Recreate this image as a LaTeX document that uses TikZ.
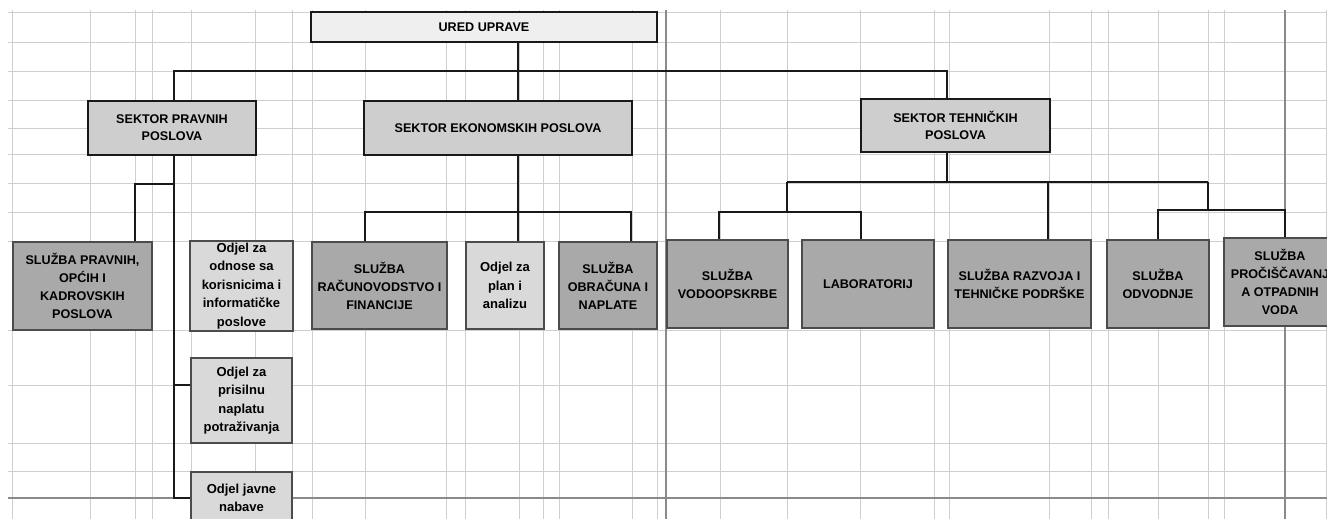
\documentclass[tikz,border=0pt]{standalone}
\usepackage{fontspec}
\setmainfont{Liberation Sans}
\usepackage{tikz}
\usetikzlibrary{positioning,calc}
\definecolor{sluzbac}{HTML}{A9A9A9}
\definecolor{sektorc}{HTML}{CECECE}
\definecolor{odjelc}{HTML}{D9D9D9}
\definecolor{uredc}{HTML}{EFEFEF}
\definecolor{gridc}{HTML}{CFCFCF}
\definecolor{breakc}{HTML}{8A8A8A}
\tikzset{
  unit/.style={align=center, inner sep=2pt,
    font=\bfseries\fontsize{12.6}{18}\selectfont},
  sektor/.style={unit, draw=black!90, line width=2.4pt, fill=sektorc,
    font=\bfseries\fontsize{12.6}{17}\selectfont},
  sluzba/.style={unit, draw=black!70, line width=1.4pt, fill=sluzbac},
  odjel/.style={unit, draw=black!70, line width=1.4pt, fill=odjelc,
    font=\bfseries\fontsize{13}{18.4}\selectfont},
  link/.style={line width=1.8pt, black!90},
  cell/.style={gridc, line width=0.7pt},
  pagebreak/.style={breakc, line width=1.1pt}}

\begin{document}
\begin{tikzpicture}[x=1pt, y=-1pt]
  \useasboundingbox (0,0) rectangle (1327,519);
  \clip (0,0) rectangle (1327,519);
  % ---- the sheet's cell grid behind the chart
  \foreach \gx in {12,90,135,152,191,255,292,312,365,446,465,519,543,559,
      632,657,720,787,860,934,949,1049,1091,1108,1158,1208,1224,1326}
    \draw[cell] (\gx,10) -- (\gx,519);
  \foreach \gy in {12,42,71,100,128,154,183,212,241,330,385,443,471}
    \draw[cell] (8,\gy) -- (1327,\gy);
  \draw[pagebreak] (666,10) -- (666,519);
  \draw[pagebreak] (1285,10) -- (1285,519);
  \draw[pagebreak] (8,498) -- (1327,498);
  % ---- top and the three sectors
  \node[sektor, fill=uredc, minimum width=346pt, minimum height=30pt]
    (ured) at (484,27) {URED UPRAVE};
  \node[sektor, minimum width=168pt, minimum height=54pt]
    (spravni) at (172,128) {SEKTOR PRAVNIH\\POSLOVA};
  \node[sektor, minimum width=268pt, minimum height=54pt]
    (sekon) at (498,128) {SEKTOR EKONOMSKIH POSLOVA};
  \node[sektor, minimum width=189pt, minimum height=53pt]
    (stehn) at (955.5,125.5) {SEKTOR TEHNIČKIH\\POSLOVA};
  % ---- units of the legal sector
  \node[sluzba, minimum width=139pt, minimum height=88pt]
    (slpravni) at (82.5,286) {SLUŽBA PRAVNIH,\\OPĆIH I\\KADROVSKIH\\POSLOVA};
  \node[odjel, minimum width=103pt, minimum height=88pt]
    (odnose) at (241.5,286) {Odjel za\\odnose sa\\korisnicima i\\informatičke\\poslove};
  \node[odjel, minimum width=101pt, minimum height=85pt]
    (prisilna) at (241.5,400.5) {Odjel za\\prisilnu\\naplatu\\potraživanja};
  \node[odjel, minimum width=101pt, minimum height=52pt]
    (nabava) at (241.5,498) {Odjel javne\\nabave};
  % ---- units of the economic sector
  \node[sluzba, minimum width=135pt, minimum height=87pt]
    (racun) at (379.5,285.5) {SLUŽBA\\RAČUNOVODSTVO I\\FINANCIJE};
  \node[odjel, minimum width=78pt, minimum height=87pt]
    (plan) at (505,285.5) {Odjel za\\plan i\\analizu};
  \node[sluzba, minimum width=98pt, minimum height=87pt]
    (obrac) at (608,285.5) {SLUŽBA\\OBRAČUNA I\\NAPLATE};
  % ---- units of the technical sector
  \node[sluzba, minimum width=121pt, minimum height=88pt]
    (vodo) at (727.5,284) {SLUŽBA\\VODOOPSKRBE};
  \node[sluzba, minimum width=132pt, minimum height=88pt]
    (lab) at (868,284) {LABORATORIJ};
  \node[sluzba, minimum width=143pt, minimum height=88pt]
    (razvoj) at (1019.5,284) {SLUŽBA RAZVOJA I\\TEHNIČKE PODRŠKE};
  \node[sluzba, minimum width=102pt, minimum height=88pt]
    (odvod) at (1158,284) {SLUŽBA\\ODVODNJE};
  \node[sluzba, minimum width=112pt, minimum height=88pt]
    (proc) at (1280,282) {SLUŽBA\\PROČIŠČAVANJ\\A OTPADNIH\\VODA};
  % ---- connectors, top level
  \coordinate (tbar) at (518,71);
  \coordinate (tl) at (174,71);
  \coordinate (tr) at (947,71);
  \draw[link] (ured.south -| tbar) -- (tbar);
  \draw[link] (spravni.north -| tl) -- (tl) -- (tr) -- (stehn.north -| tr);
  \draw[link] (tbar) -- (sekon.north -| tbar);
  % legal sector: one spine on the left
  \coordinate (pbot) at (174,498);
  \coordinate (pbr) at (174,184);
  \coordinate (pl) at (135,184);
  \coordinate (ppr) at (174,385);
  \draw[link] (spravni.south -| pbot) -- (pbot) -- (nabava.west |- pbot);
  \draw[link] (pbr) -- (pl) -- (slpravni.north -| pl);
  \draw[link] (ppr) -- (prisilna.west |- ppr);
  % economic sector
  \coordinate (ej) at (518,212);
  \coordinate (el) at (365,212);
  \coordinate (er) at (631,212);
  \draw[link] (sekon.south -| ej) -- (ej) -- (plan.north -| ej);
  \draw[link] (racun.north -| el) -- (el) -- (er) -- (obrac.north -| er);
  % technical sector, with two sub-forks
  \coordinate (tj) at (947,182);
  \coordinate (tjl) at (787,182);
  \coordinate (tjr) at (1208,182);
  \coordinate (tjm) at (1048,182);
  \coordinate (va) at (719,212);
  \coordinate (vb) at (861,212);
  \coordinate (oa) at (1158,210);
  \coordinate (ob) at (1285,210);
  \draw[link] (stehn.south -| tj) -- (tj);
  \draw[link] (tjl) -- (tjr);
  \draw[link] (tjm) -- (razvoj.north -| tjm);
  \draw[link] (tjl) -- (tjl |- va);
  \draw[link] (vodo.north -| va) -- (va) -- (vb) -- (lab.north -| vb);
  \draw[link] (tjr) -- (tjr |- oa);
  \draw[link] (odvod.north -| oa) -- (oa) -- (ob) -- (proc.north -| ob);
\end{tikzpicture}
\end{document}
